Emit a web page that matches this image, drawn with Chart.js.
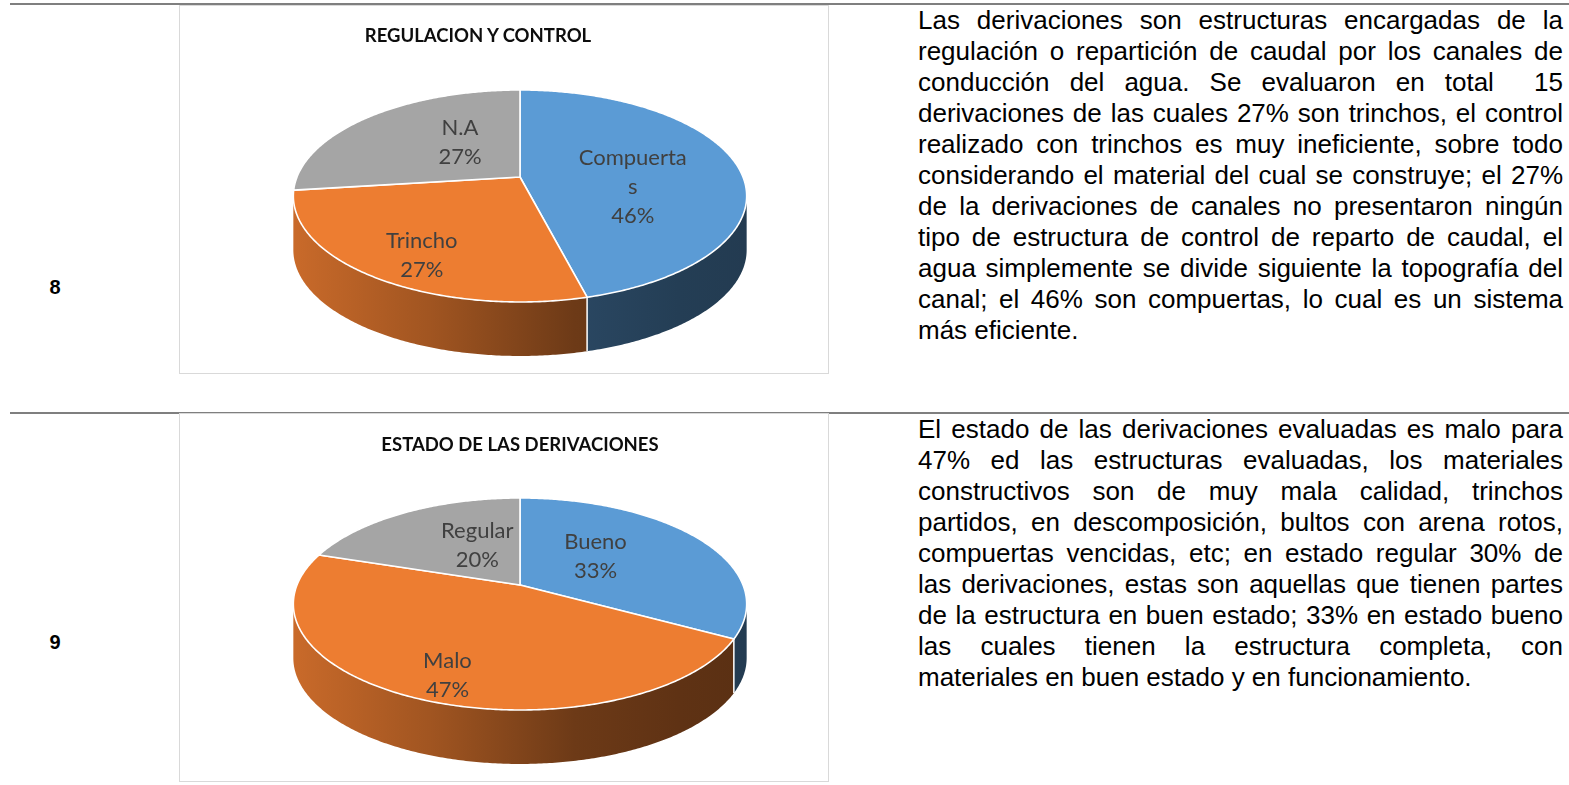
<!DOCTYPE html>
<html>
<head>
<meta charset="utf-8">
<script src="https://cdn.jsdelivr.net/npm/chart.js"></script>
<style>
  body { margin: 0; width: 1569px; height: 785px; background: #fff; position: relative; overflow: hidden;
         font-family: "Liberation Sans", Arial, sans-serif; }
  .rule { position: absolute; left: 10px; right: 0; height: 2px; background: #7f7f7f; }
  .num { position: absolute; width: 40px; left: 35px; text-align: center; font-weight: bold; font-size: 20px; line-height: 24px; }
  .chartwrap { position: absolute; left: 179px; width: 650px; height: 369px; }
  .chartwrap canvas { position: absolute; left: 0; top: 0; }
  .frame { position: absolute; inset: 0; border: 1px solid #d9d9d9; pointer-events: none; }
  .ctitle { position: absolute; font-family: Lato, sans-serif; font-weight: bold; font-size: 18.5px; color: #0d0d0d;
            white-space: nowrap; transform: translate(-50%, -50%); }
  .para { position: absolute; left: 918px; width: 645px; font-size: 26px; line-height: 31px; color: #000; }
  .para div { white-space: nowrap; text-align: justify; text-align-last: justify; transform-origin: left center; }
  .para div:last-child { text-align-last: left; }
</style>
</head>
<body>

<div class="rule" style="top:3px"></div>
<div class="rule" style="top:412px"></div>

<div class="num" style="top:275px">8</div>
<div class="num" style="top:630px">9</div>

<div class="chartwrap" style="top:5px">
  <canvas id="regChart" width="650" height="369"></canvas>
  <div class="ctitle" style="left:299px;top:30px">REGULACION Y CONTROL</div>
  <div class="frame"></div>
</div>

<div class="chartwrap" style="top:413px">
  <canvas id="estChart" width="650" height="369"></canvas>
  <div class="ctitle" style="left:341px;top:31px">ESTADO DE LAS DERIVACIONES</div>
  <div class="frame"></div>
</div>

<div class="para" id="para1" style="top:5px"></div>
<div class="para" id="para2" style="top:414px"></div>

<script>
// chart data
const regCategories = ['Compuertas', 'Trincho', 'N.A'];
const regValues = [46, 27, 27];

const estCategories = ['Bueno', 'Malo', 'Regular'];
const estValues = [33, 47, 20];

const sliceColors = ['#5B9BD5', '#ED7D31', '#A5A5A5'];

// text beside the charts, one entry per printed line
const para1Lines = [
  'Las derivaciones son estructuras encargadas de la',
  'regulación o repartición de caudal por los canales de',
  'conducción del agua. Se evaluaron en total\u00a0 15',
  'derivaciones de las cuales 27% son trinchos, el control',
  'realizado con trinchos es muy ineficiente, sobre todo',
  'considerando el material del cual se construye; el 27%',
  'de la derivaciones de canales no presentaron ningún',
  'tipo de estructura de control de reparto de caudal, el',
  'agua simplemente se divide siguiente la topografía del',
  'canal; el 46% son compuertas, lo cual es un sistema',
  'más eficiente.'
];
const para2Lines = [
  'El estado de las derivaciones evaluadas es malo para',
  '47% ed las estructuras evaluadas, los materiales',
  'constructivos son de muy mala calidad, trinchos',
  'partidos, en descomposición, bultos con arena rotos,',
  'compuertas vencidas, etc; en estado regular 30% de',
  'las derivaciones, estas son aquellas que tienen partes',
  'de la estructura en buen estado; 33% en estado bueno',
  'las cuales tienen la estructura completa, con',
  'materiales en buen estado y en funcionamiento.'
];

function fillPara(id, lines) {
  const el = document.getElementById(id);
  lines.forEach(t => {
    const d = document.createElement('div');
    d.textContent = t;
    el.appendChild(d);
  });
  // squeeze any line that is wider than the column
  el.querySelectorAll('div').forEach(d => {
    if (d.scrollWidth > 645) {
      const k = 645 / d.scrollWidth;
      d.style.width = (645 / k) + 'px';
      d.style.transform = 'scaleX(' + k + ')';
    }
  });
}

function shade(hex, k) {
  const n = parseInt(hex.slice(1), 16);
  const r = Math.round(((n >> 16) & 255) * k);
  const g = Math.round(((n >> 8) & 255) * k);
  const b = Math.round((n & 255) * k);
  return 'rgb(' + r + ',' + g + ',' + b + ')';
}

// long single words get broken like Excel does it
function wrapLabel(text, maxChars) {
  const out = [];
  text.split(' ').forEach(w => {
    while (w.length > maxChars) { out.push(w.slice(0, maxChars)); w = w.slice(maxChars); }
    out.push(w);
  });
  return out;
}

// draws the pie as a tilted 3D disc with perspective
const pie3d = {
  id: 'pie3d',
  beforeDatasetsDraw(chart, args, opts) {
    const ctx = chart.ctx;
    const arcs = chart.getDatasetMeta(0).data;
    if (!arcs.length) return false;
    const cx = arcs[0].x, cy = arcs[0].y;
    const { a, b, s, depth } = opts;
    const proj = (ang, f, dz) => {
      const u = Math.cos(ang) * f, v = Math.sin(ang) * f;
      const w = 1 - s * v;
      return [cx + a * u / w, cy + b * v / w + dz];
    };
    chart.$proj = proj;
    const half = a / Math.sqrt(1 - s * s);
    const lo = Math.asin(s), hi = Math.PI - lo;
    const step = 0.01;

    // side walls
    arcs.forEach(arc => {
      const st = Math.max(arc.startAngle, lo), en = Math.min(arc.endAngle, hi);
      if (en <= st) return;
      const base = arc.options.backgroundColor;
      const g = ctx.createLinearGradient(cx - half, 0, cx + half, 0);
      g.addColorStop(0, shade(base, 0.85));
      g.addColorStop(0.3, shade(base, 0.68));
      g.addColorStop(0.62, shade(base, 0.46));
      g.addColorStop(0.85, shade(base, 0.40));
      g.addColorStop(1, shade(base, 0.38));
      ctx.beginPath();
      const n = Math.max(2, Math.ceil((en - st) / step));
      for (let i = 0; i <= n; i++) {
        const p = proj(st + (en - st) * i / n, 1, 0);
        i ? ctx.lineTo(p[0], p[1]) : ctx.moveTo(p[0], p[1]);
      }
      for (let i = n; i >= 0; i--) {
        const p = proj(st + (en - st) * i / n, 1, depth);
        ctx.lineTo(p[0], p[1]);
      }
      ctx.closePath();
      ctx.fillStyle = g;
      ctx.fill();
    });

    // white seams on the wall where two slices meet
    ctx.strokeStyle = '#fff';
    ctx.lineWidth = 1.5;
    arcs.forEach(arc => {
      let ang = arc.startAngle;
      while (ang < 0) ang += Math.PI * 2;
      if (ang > lo && ang < hi) {
        const p0 = proj(ang, 1, 0), p1 = proj(ang, 1, depth);
        ctx.beginPath();
        ctx.moveTo(p0[0], p0[1]);
        ctx.lineTo(p1[0], p1[1]);
        ctx.stroke();
      }
    });

    // top faces
    arcs.forEach(arc => {
      const st = arc.startAngle, en = arc.endAngle;
      const c = proj(0, 0, 0);
      ctx.beginPath();
      ctx.moveTo(c[0], c[1]);
      const n = Math.max(2, Math.ceil((en - st) / step));
      for (let i = 0; i <= n; i++) {
        const p = proj(st + (en - st) * i / n, 1, 0);
        ctx.lineTo(p[0], p[1]);
      }
      ctx.closePath();
      ctx.fillStyle = arc.options.backgroundColor;
      ctx.fill();
      ctx.lineJoin = 'round';
      ctx.strokeStyle = '#fff';
      ctx.lineWidth = 1.6;
      ctx.stroke();
    });
    return false;
  },
  afterDraw(chart) {
    const ctx = chart.ctx;
    const proj = chart.$proj;
    if (!proj) return;
    const ds = chart.data.datasets[0];
    const total = ds.data.reduce((x, y) => x + y, 0);
    const lh = 29;
    ctx.save();
    ctx.font = '22px Lato';
    ctx.fillStyle = '#404040';
    ctx.textAlign = 'center';
    ctx.textBaseline = 'middle';
    chart.getDatasetMeta(0).data.forEach((arc, i) => {
      const mid = (arc.startAngle + arc.endAngle) / 2;
      const f = 0.52 + 0.22 * Math.sin(mid);
      const p = proj(mid, f, 0);
      const lines = wrapLabel(chart.data.labels[i], 9);
      lines.push(Math.round(ds.data[i] / total * 100) + '%');
      // label box hangs from its first two lines, plus extra depth cue
      const yc = p[1] + 15 * Math.sin(mid) + (lines.length - 2) * lh / 2 + 4 * (lines.length - 2);
      const y0 = yc - (lines.length - 1) * lh / 2;
      lines.forEach((t, k) => ctx.fillText(t, p[0] + 5 * (lines.length - 2), y0 + k * lh));
    });
    ctx.restore();
  }
};

function makePie(id, labels, values) {
  return new Chart(document.getElementById(id).getContext('2d'), {
    type: 'pie',
    data: {
      labels: labels,
      datasets: [{ data: values, backgroundColor: sliceColors, borderColor: '#fff', borderWidth: 1.5 }]
    },
    options: {
      responsive: false,
      animation: false,
      events: [],
      radius: 100,
      layout: { padding: { left: 32, right: 0, top: 0, bottom: 25 } },
      plugins: {
        legend: { display: false },
        tooltip: { enabled: false },
        pie3d: { a: 223, b: 102.6, s: 0.179, depth: 54 }
      }
    },
    plugins: [pie3d]
  });
}

document.fonts.ready.then(() => {
  fillPara('para1', para1Lines);
  fillPara('para2', para2Lines);
  makePie('regChart', regCategories, regValues);
  makePie('estChart', estCategories, estValues);
});
</script>
</body>
</html>
